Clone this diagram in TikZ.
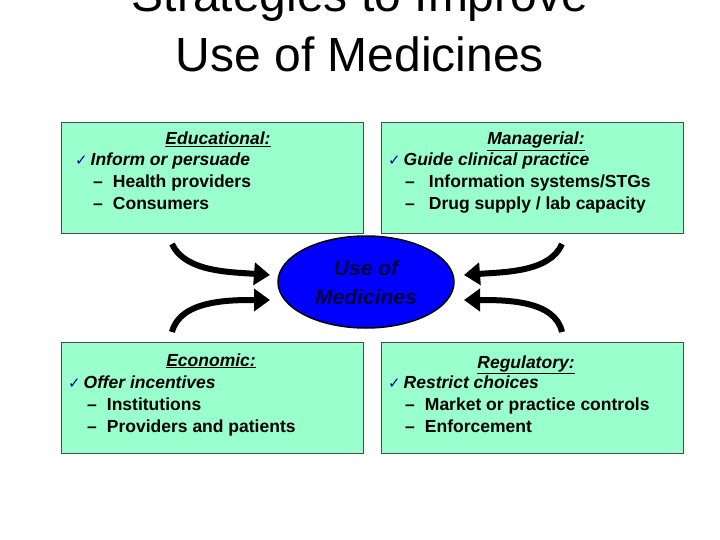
\documentclass[tikz,border=0pt]{standalone}
\usepackage{fontspec}
\setmainfont{Liberation Sans}
\newfontfamily\djfont{DejaVu Sans}
\usetikzlibrary{arrows.meta,shapes.geometric}
\definecolor{boxfill}{RGB}{153,255,204}
\definecolor{ellfill}{RGB}{0,0,255}
\definecolor{elltext}{RGB}{0,0,60}
\tikzset{
  box/.style={draw=black!70,fill=boxfill,minimum width=302pt,minimum height=111pt,anchor=north west,inner sep=0pt},
  txt/.style={anchor=base west,inner sep=0pt,font=\fontsize{17.5}{18}\selectfont\bfseries},
  hdr/.style={anchor=base,inner sep=0pt,font=\fontsize{17.5}{18}\selectfont\bfseries\itshape},
  bigarrow/.style={line width=6pt,-{Triangle[length=16pt,width=22pt]}},
}
\newcommand{\chk}{{\djfont\color{blue!60!black}\fontsize{15}{14}\selectfont ✓}\,}
\newcommand{\dsh}{–\hspace{10pt}}
\begin{document}
\begin{tikzpicture}[x=1pt,y=-1pt]
\useasboundingbox (0,0) rectangle (720,540);
\node[inner sep=0pt,anchor=base,font=\fontsize{48}{50}\selectfont] (t1) at (360,12) {Strategies to Improve};
\node[inner sep=0pt,anchor=base,font=\fontsize{48}{50}\selectfont] (t2) at (360,72) {Use of Medicines};

\node[box] (ed) at (61,122) {};
\node[box] (ma) at (381,122) {};
\node[box] (ec) at (61,342) {};
\node[box] (re) at (381,342) {};

\node[hdr] (edh) at (218,145) {\underline{Educational:}};
\node[txt] (ed1) at (75,166) {\chk\itshape Inform or persuade};
\node[txt] (ed2) at (93,188) {\dsh Health providers};
\node[txt] (ed3) at (93,210) {\dsh Consumers};

\node[hdr] (mah) at (536,145) {\underline{Managerial:}};
\node[txt] (ma1) at (388,166) {\chk\itshape Guide clinical practice};
\node[txt] (ma2) at (405,188) {\dsh\hspace{4pt}Information systems/STGs};
\node[txt] (ma3) at (405,210) {\dsh\hspace{4pt}Drug supply / lab capacity};

\node[hdr] (ech) at (211,366) {\underline{Economic:}};
\node[txt] (ec1) at (68,388) {\chk\itshape Offer incentives};
\node[txt] (ec2) at (87,410) {\dsh Institutions};
\node[txt] (ec3) at (87,432) {\dsh Providers and patients};

\node[hdr] (reh) at (526,368) {\underline{Regulatory:}};
\node[txt] (re1) at (388,388) {\chk\itshape Restrict choices};
\node[txt] (re2) at (405,410) {\dsh Market or practice controls};
\node[txt] (re3) at (405,432) {\dsh Enforcement};

\node[ellipse,draw=black,line width=1.5pt,fill=ellfill,minimum width=176pt,minimum height=92pt,align=center,font=\fontsize{21}{29}\selectfont\bfseries\itshape,text=elltext] (c) at (366,282) {Use of\\Medicines};

\coordinate (a1) at (172,244);
\coordinate (a2) at (172,332);
\coordinate (a3) at (562,244);
\coordinate (a4) at (562,332);
\coordinate (b1) at (270,275);
\coordinate (b2) at (270,300);
\coordinate (b3) at (464,275);
\coordinate (b4) at (464,300);
\draw[bigarrow] (a1) .. controls (185,272) and (230,272) .. (b1);
\draw[bigarrow] (a2) .. controls (180,300) and (230,300) .. (b2);
\draw[bigarrow] (a3) .. controls (550,272) and (505,272) .. (b3);
\draw[bigarrow] (a4) .. controls (555,300) and (505,300) .. (b4);
\end{tikzpicture}
\end{document}
